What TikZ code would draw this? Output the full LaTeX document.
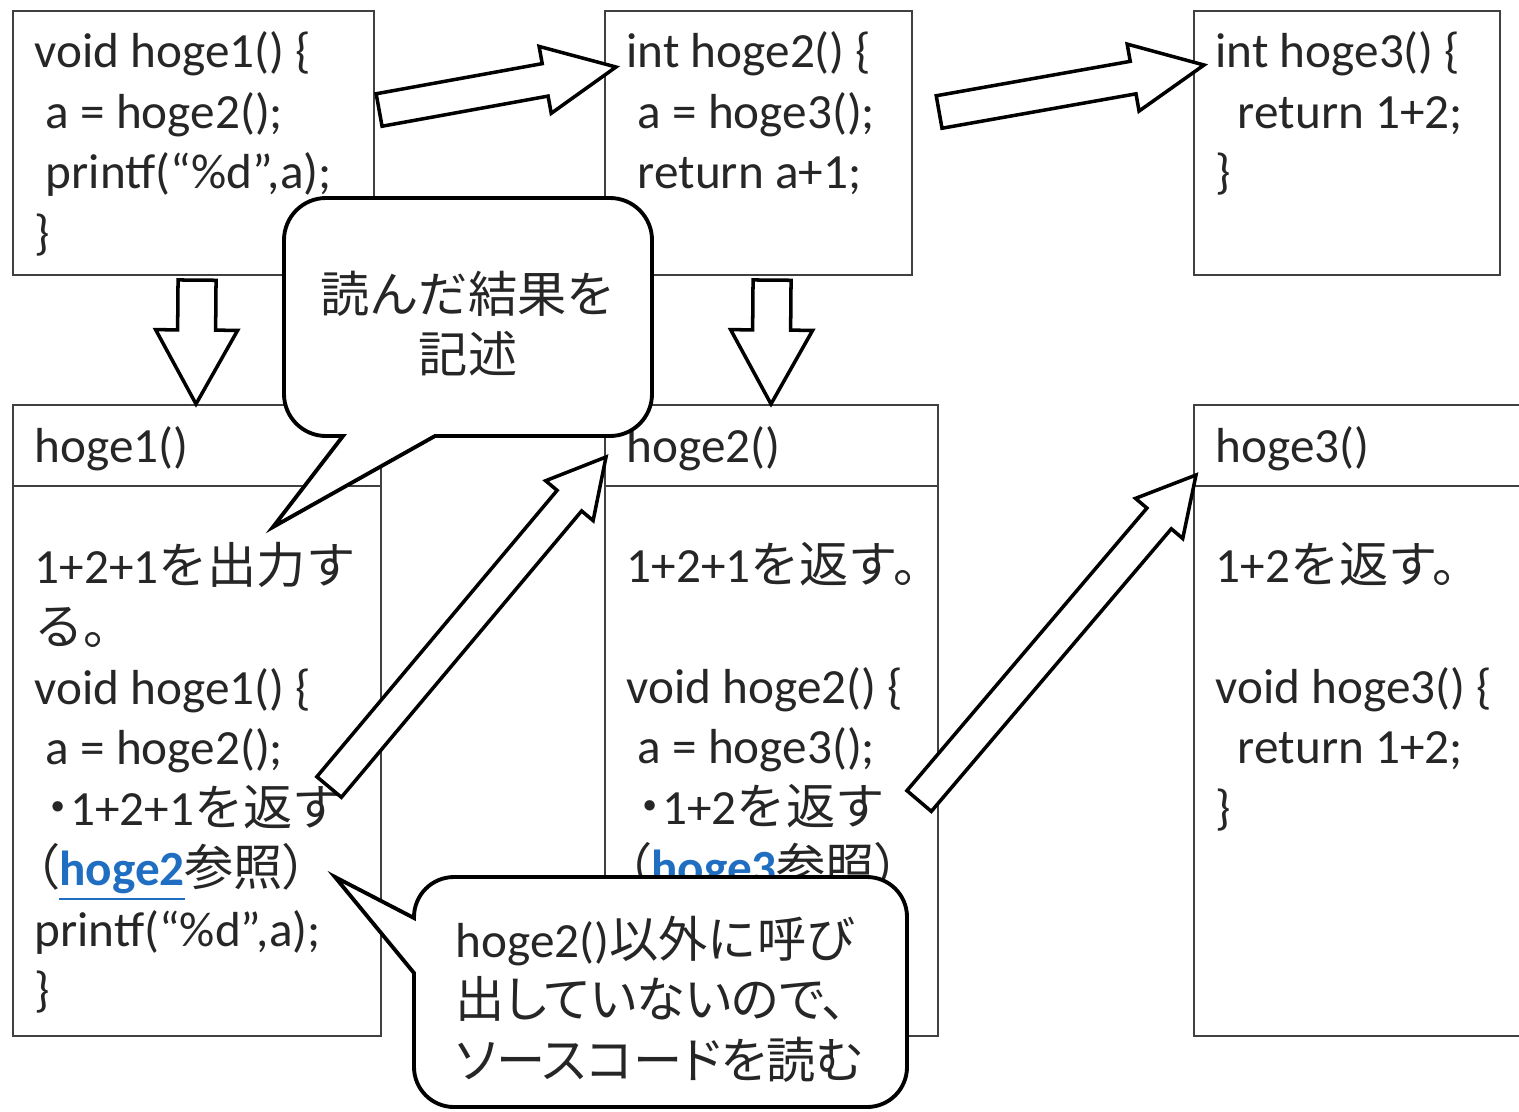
\documentclass[tikz,border=0pt]{standalone}
\usepackage{fontspec}
\setmainfont{Carlito}
\newfontfamily\jp{Noto Sans CJK JP}
\newfontfamily\jpp{Noto Sans CJK JP}[RawFeature=+palt]
\usetikzlibrary{calc}
\definecolor{linkblue}{RGB}{31,110,193}
\def\blockarrow[#1](#2)(#3)(#4:#5:#6){%
  \coordinate (hb) at ($(#3)!#6!(#2)$);
  \draw[#1] ($(#2)!#4!90:(#3)$) -- ($(hb)!#4!90:(#3)$) -- ($(hb)!#5!90:(#3)$) -- (#3)
    -- ($(hb)!#5!-90:(#3)$) -- ($(hb)!#4!-90:(#3)$) -- ($(#2)!#4!-90:(#3)$) -- cycle;}
\newcommand\reflink[1]{\textcolor{linkblue}{\bfseries\underline{#1}}}

\begin{document}
\begin{tikzpicture}[
    box/.style={draw=black!75, line width=0.6pt, anchor=north west, inner sep=0pt},
    divider/.style={draw=black!75, line width=0.6pt},
    code/.style={anchor=north west, inner sep=0pt, align=left, text=black!85,
      font=\fontsize{14pt}{17.2pt}\selectfont, execute at begin node=\strut},
    arrowbox/.style={draw=black, fill=white, line width=1pt, line join=miter},
    memo/.style={draw=black, fill=white, line width=1.1pt}
  ]
  \useasboundingbox (0,0) rectangle (15.19,-11.11);
  \clip (0,0) rectangle (15.19,-11.11);

  %%%%% source boxes %%%%%
  \node[box, minimum width=3.61cm, minimum height=2.64cm] (srcA) at (0.12,-0.10) {};
  \node[box, minimum width=3.07cm, minimum height=2.64cm] (srcB) at (6.04,-0.10) {};
  \node[box, minimum width=3.06cm, minimum height=2.64cm] (srcC) at (11.93,-0.10) {};

  \node[code] (srcAtxt) at ($(srcA.north west)+(0.22,-0.21)$) {void hoge1() \{\\ ~a = hoge2();\\ ~printf(“\%d”,a);\\ \}};
  \node[code] (srcBtxt) at ($(srcB.north west)+(0.22,-0.21)$) {int hoge2() \{\\ ~a = hoge3();\\ ~return a+1;};
  \node[code] (srcCtxt) at ($(srcC.north west)+(0.22,-0.21)$) {int hoge3() \{\\ ~~return 1+2;\\ \}};

  %%%%% function notes %%%%%
  \node[box, minimum width=3.68cm, minimum height=6.31cm] (fnA) at (0.12,-4.04) {};
  \node[box, minimum width=3.33cm, minimum height=6.31cm] (fnB) at (6.04,-4.04) {};
  \node[box, minimum width=3.40cm, minimum height=6.31cm] (fnC) at (11.93,-4.04) {};
  \draw[divider] ($(fnA.north west)+(0,-0.82)$) -- ($(fnA.north east)+(0,-0.82)$);
  \draw[divider] ($(fnB.north west)+(0,-0.82)$) -- ($(fnB.north east)+(0,-0.82)$);
  \draw[divider] ($(fnC.north west)+(0,-0.82)$) -- ($(fnC.north east)+(0,-0.82)$);

  \node[code] (fnAhead) at ($(fnA.north west)+(0.22,-0.156)$) {hoge1()};
  \node[code] (fnBhead) at ($(fnB.north west)+(0.22,-0.156)$) {hoge2()};
  \node[code] (fnChead) at ($(fnC.north west)+(0.22,-0.156)$) {hoge3()};

  \node[code] (fnAtxt) at ($(fnA.north west)+(0.22,-1.376)$) {1+2+1{\jp を出力す}\\ {\jp る。}\\ void hoge1() \{\\ ~a = hoge2();\\ ~{\jpp ・}1+2+1{\jp を返す}\\ {\jpp （}\reflink{hoge2}{\jp 参照}{\jpp ）}\\ printf(“\%d”,a);\\ \}};
  \node[code] (fnBtxt) at ($(fnB.north west)+(0.22,-1.376)$) {1+2+1{\jp を返す。}\\ ~\\ void hoge2() \{\\ ~a = hoge3();\\ ~{\jpp ・}1+2{\jp を返す}\\ {\jpp （}\reflink{hoge3}{\jp 参照}{\jpp ）}};
  \node[code] (fnCtxt) at ($(fnC.north west)+(0.22,-1.376)$) {1+2{\jp を返す。}\\ ~\\ void hoge3() \{\\ ~~return 1+2;\\ \}};

  %%%%% reading order %%%%%
  \coordinate (downA) at ($(srcA.south)+(0.035,-0.04)$);
  \coordinate (downAend) at ($(fnA.north west)+(1.84,0)$);
  \coordinate (downB) at ($(srcB.south)+(0.135,-0.04)$);
  \coordinate (downBend) at ($(fnB.north west)+(1.67,0)$);
  \blockarrow[arrowbox](downA)(downAend)(0.19cm:0.41cm:0.74cm)
  \blockarrow[arrowbox](downB)(downBend)(0.19cm:0.41cm:0.74cm)

  \coordinate (callA) at ($(srcA.north east)+(0.04,-1.00)$);
  \coordinate (callAend) at ($(srcB.north west)+(0.12,-0.57)$);
  \coordinate (callB) at ($(srcB.north east)+(0.26,-1.02)$);
  \coordinate (callBend) at ($(srcC.north west)+(0.11,-0.55)$);
  \blockarrow[arrowbox](callA)(callAend)(0.165cm:0.34cm:0.72cm)
  \blockarrow[arrowbox](callB)(callBend)(0.165cm:0.34cm:0.72cm)

  %%%%% note: result %%%%%
  \draw[memo] (3.43,-4.36) -- (2.73,-5.27) -- (4.35,-4.36) -- (6.10,-4.36)
    arc[start angle=270, end angle=360, radius=0.42] -- (6.52,-2.40)
    arc[start angle=0, end angle=90, radius=0.42] -- (3.26,-1.98)
    arc[start angle=90, end angle=180, radius=0.42] -- (2.84,-3.94)
    arc[start angle=180, end angle=270, radius=0.42] -- cycle;
  \node[code, anchor=north, align=center] (memoAtxt) at (4.68,-2.70) {\jp 読んだ結果を\\ \jp 記述};

  \coordinate (backA) at ($(fnA.north east)+(-0.53,-3.83)$);
  \coordinate (backAend) at ($(fnB.north west)+(0.02,-0.53)$);
  \coordinate (backB) at ($(fnB.north east)+(-0.20,-3.97)$);
  \coordinate (backBend) at ($(fnC.north west)+(0.03,-0.71)$);
  \blockarrow[arrowbox](backA)(backAend)(0.16cm:0.31cm:0.57cm)
  \blockarrow[arrowbox](backB)(backBend)(0.16cm:0.31cm:0.57cm)

  %%%%% note: source %%%%%
  \draw[memo] (4.14,-9.18) -- (3.35,-8.77) -- (4.14,-9.73) -- (4.14,-10.67)
    arc[start angle=180, end angle=270, radius=0.40] -- (8.67,-11.07)
    arc[start angle=270, end angle=360, radius=0.40] -- (9.07,-9.17)
    arc[start angle=0, end angle=90, radius=0.40] -- (4.54,-8.77)
    arc[start angle=90, end angle=180, radius=0.40] -- cycle;
  \node[code] (memoBtxt) at (4.55,-9.15) {hoge2(){\jp 以外に呼び}\\ {\jpp 出していないので、}\\ {\jpp ソースコードを読む}};
\end{tikzpicture}
\end{document}
